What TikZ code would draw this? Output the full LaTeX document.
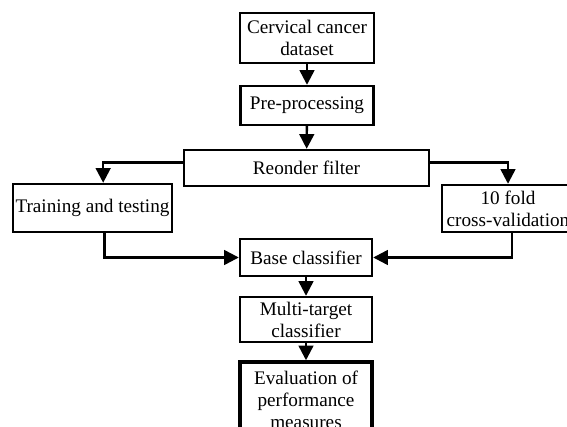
\documentclass[tikz,border=0pt]{standalone}
\usepackage{fontspec}
\setmainfont{Liberation Serif}
\usepackage{tikz}
\usetikzlibrary{arrows.meta}

\begin{document}
\begin{tikzpicture}[x = 0.75pt, y = -0.75pt]
				    \tikzstyle{box}=[draw,line width = 1.8pt,black,rectangle,inner sep = 0pt,align = center,font = \fontsize{14.4}{16.5}\selectfont]
				    \tikzstyle{link}=[draw,line width = 1.8pt,black,-{Triangle[length = 11pt, width = 11pt]}]
				    \useasboundingbox (0,0) rectangle (567,427);
				    \clip (0,0) rectangle (567,427);
				    \node[box,minimum width = 100.5pt,minimum height = 37.5pt] (data) at (307,38) {Cervical cancer\\dataset};
				    \node[box,minimum width = 100pt,minimum height = 29.25pt] (prep) at (307,105.5) {Pre-processing};
				    \node[box,minimum width = 183.75pt,minimum height = 27pt] (filter) at (306.5,168) {Reonder filter};
				    \node[box,minimum width = 119.25pt,minimum height = 36pt] (train) at (92.5,208) {Training and testing};
				    \node[box,minimum width = 99pt,minimum height = 35.25pt] (fold) at (508,208.5) {10 fold\\cross-validation};
				    \node[box,minimum width = 99pt,minimum height = 27.75pt] (base) at (306,257.5) {Base classifier};
				    \node[box,minimum width = 99pt,minimum height = 33.75pt] (multi) at (306,319.5) {Multi-target\\classifier};
				    \node[box,line width = 2.6pt,minimum width = 99pt,minimum height = 57pt] (eval) at (306,400) {Evaluation of\\performance\\measures};
				    \draw[link] (data) -- (prep);
				    \draw[link] (prep) -- (filter);
				    \draw[link] ([yshift = 4pt]filter.west) -| ([xshift = 8pt]train.north);
				    \draw[link] ([yshift = 4pt]filter.east) -| (fold.north);
				    \draw[link] ([xshift = 9pt]train.south) |- (base.west);
				    \draw[link] ([xshift = 3pt]fold.south) |- (base.east);
				    \draw[link] (base) -- (multi);
				    \draw[link] (multi) -- (eval);
				\end{tikzpicture}
\end{document}
